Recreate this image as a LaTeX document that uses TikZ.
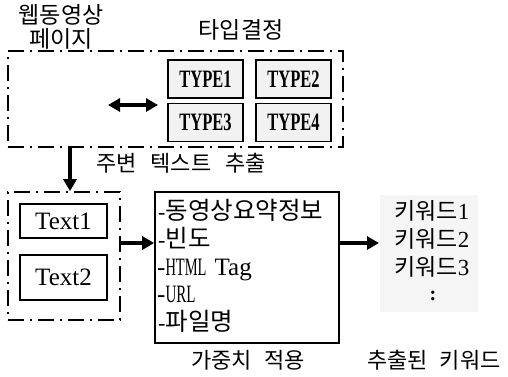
\documentclass[tikz,border=0pt]{standalone}
\usepackage{graphicx}
\usepackage{fontspec}
\setmainfont{Liberation Serif}
\newfontfamily\kr{Noto Sans CJK KR}
\newcommand{\condtxt}[2]{\scalebox{#1}[1]{#2}}
\usetikzlibrary{arrows.meta}
\tikzset{
  dashdot/.style={draw, line width=1.6pt, dash pattern=on 16pt off 6pt on 2pt off 6pt},
  typebox/.style={draw, line width=1.6pt, fill=black!5, minimum width=75pt, minimum height=38pt, inner sep=0pt, font=\bfseries\fontsize{25}{28}\selectfont},
  textbox/.style={draw, line width=1.4pt, minimum width=87pt, inner sep=0pt, font=\fontsize{25}{28}\selectfont},
  arr/.style={line width=4pt, -{Triangle[length=12pt,width=13pt]}},
  darr/.style={line width=4pt, {Triangle[length=12pt,width=13pt]}-{Triangle[length=12pt,width=13pt]}},
  lbl/.style={font=\kr\fontsize{22}{25}\selectfont, inner sep=0pt},
  item/.style={anchor=west, inner sep=0pt, font=\fontsize{22}{26}\selectfont},
  latinitem/.style={anchor=base west, inner sep=0pt, font=\fontsize{25}{28}\selectfont},
  kw/.style={inner sep=0pt, font=\kr\fontsize{23}{26}\selectfont},
}
\begin{document}
\begin{tikzpicture}[x=1pt,y=-1pt]
\useasboundingbox (0,0) rectangle (508,376);
% keyword halftone background
\fill[black!4] (380,195) rectangle (478,312);
% top container
\node[dashdot, minimum width=335pt, minimum height=96pt, inner sep=0pt] (tb) at (175.5,99) {};
\node[typebox] (t1) at (205.5,79) {\condtxt{0.66}{TYPE1}};
\node[typebox] (t2) at (293.5,79) {\condtxt{0.66}{TYPE2}};
\node[typebox] (t3) at (205.5,122.5) {\condtxt{0.66}{TYPE3}};
\node[typebox] (t4) at (293.5,122.5) {\condtxt{0.66}{TYPE4}};
\coordinate (da1) at (108,105);
\coordinate (da2) at (158,105);
\draw[darr] (da1) -- (da2);
% top labels
\node[lbl, align=center, font=\kr\fontsize{23}{24}\selectfont] (lweb) at (61,27) {웹동영상\\페이지};
\node[lbl, font=\kr\fontsize{23}{24}\selectfont] (ltype) at (241,30) {타입결정};
\node[lbl, anchor=west] (lsur) at (96,163) {주변\hspace{14pt}텍스트\hspace{14pt}추출};
% left container
\node[dashdot, minimum width=112pt, minimum height=128pt, inner sep=0pt] (lb) at (64,256) {};
\node[textbox, minimum height=34pt] (x1) at (63.5,221) {Text1};
\node[textbox, minimum height=45pt] (x2) at (63.5,277.5) {Text2};
% middle box
\node[draw, line width=1.6pt, minimum width=184pt, minimum height=151pt, inner sep=0pt] (mb) at (247,267.5) {};
\node[item] (i1) at (158,210) {-{\kr\fontsize{24.5}{26}\selectfont 동영상요약정보}};
\node[item] (i2) at (158,238) {-{\kr\fontsize{24.5}{26}\selectfont 빈도}};
\node[latinitem] (i3) at (157,275) {-\condtxt{0.58}{HTML}\hspace{8pt}Tag};
\node[latinitem] (i4) at (157,302) {-\condtxt{0.6}{URL}};
\node[item] (i5) at (158,321) {-{\kr\fontsize{24.5}{26}\selectfont 파일명}};
\node[lbl] (lw) at (248,360) {가중치\hspace{12pt}적용};
% keywords
\node[kw] (k1) at (432,211) {키워드{\rmfamily 1}};
\node[kw] (k2) at (432,239) {키워드{\rmfamily 2}};
\node[kw] (k3) at (432,267) {키워드{\rmfamily 3}};
\node[inner sep=0pt, font=\bfseries\fontsize{20}{22}\selectfont] (kd) at (433,296) {:};
\node[lbl] (lk) at (434,360) {추출된\hspace{12pt}키워드};
% connectors
\coordinate (ay) at (0,243);
\coordinate (kin) at (379,243);
\draw[arr] ([xshift=6pt]lb.north |- tb.south) -- ([xshift=6pt]lb.north);
\draw[arr] (lb.east |- ay) -- (mb.west |- ay);
\draw[arr] (mb.east |- ay) -- (kin);
\end{tikzpicture}
\end{document}
